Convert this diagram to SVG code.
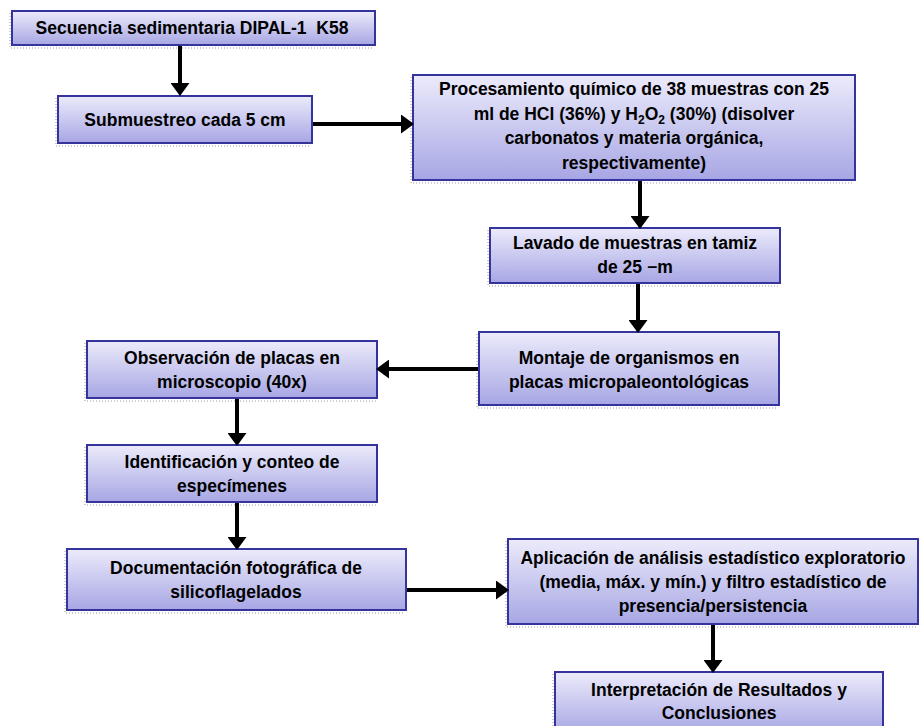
<svg xmlns="http://www.w3.org/2000/svg" width="920" height="726" viewBox="0 0 920 726">
<defs>
<linearGradient id="g" x1="0" y1="0" x2="0" y2="1">
<stop offset="0" stop-color="#ecebfb"/>
<stop offset="1" stop-color="#a7a6e4"/>
</linearGradient>
<marker id="ah" markerUnits="userSpaceOnUse" markerWidth="14" markerHeight="19" refX="2" refY="9.5" orient="auto" viewBox="0 0 14 19">
<path d="M0,0 L13,9.5 L0,19 z" fill="#000"/>
</marker>
</defs>
<style>
.box{fill:url(#g);stroke:#34349c;stroke-width:2}
.sh{fill:none;stroke:#9a9a9a;stroke-width:1;stroke-dasharray:1 2}
text{font-family:"Liberation Sans",Arial,sans-serif;font-weight:bold;font-size:17.5px;fill:#000;text-anchor:middle}
.c{stroke:#000;stroke-width:4;fill:none;marker-end:url(#ah)}
</style>
<rect width="920" height="726" fill="#fff"/>

<g id="n1">
<path class="sh" d="M10,13 V48 H374"/>
<rect class="box" x="12" y="11" width="363" height="34"/>
<text x="192" y="34">Secuencia sedimentaria DIPAL-1&#160; K58</text>
</g>
<g id="n2">
<path class="sh" d="M56,98 V146 H311"/>
<rect class="box" x="58" y="96" width="254" height="47"/>
<text x="185" y="126">Submuestreo cada 5 cm</text>
</g>
<g id="n3">
<path class="sh" d="M411,77 V183 H854"/>
<rect class="box" x="413" y="75" width="442" height="105"/>
<text x="634" y="95">Procesamiento químico de 38 muestras con 25</text>
<text x="634" y="120">ml de HCl (36%) y H<tspan font-size="12" dy="4">2</tspan><tspan dy="-4">O</tspan><tspan font-size="12" dy="4">2</tspan><tspan dy="-4"> (30%) (disolver</tspan></text>
<text x="634" y="144">carbonatos y materia orgánica,</text>
<text x="634" y="169">respectivamente)</text>
</g>
<g id="n4">
<path class="sh" d="M488,230 V286 H779"/>
<rect class="box" x="490" y="228" width="290" height="55"/>
<text x="635" y="249">Lavado de muestras en tamiz</text>
<text x="635" y="273">de 25 −m</text>
</g>
<g id="n5">
<path class="sh" d="M477,334 V408 H778"/>
<rect class="box" x="479" y="332" width="300" height="73"/>
<text x="629" y="364">Montaje de organismos en</text>
<text x="629" y="388">placas micropaleontológicas</text>
</g>
<g id="n6">
<path class="sh" d="M85,343 V401 H376"/>
<rect class="box" x="87" y="341" width="290" height="57"/>
<text x="232" y="364">Observación de placas en</text>
<text x="232" y="388">microscopio (40x)</text>
</g>
<g id="n7">
<path class="sh" d="M85,447 V505 H376"/>
<rect class="box" x="87" y="445" width="290" height="57"/>
<text x="232" y="468">Identificación y conteo de</text>
<text x="232" y="492">especímenes</text>
</g>
<g id="n8">
<path class="sh" d="M65,551 V613 H405"/>
<rect class="box" x="67" y="549" width="339" height="61"/>
<text x="236" y="574">Documentación fotográfica de</text>
<text x="236" y="598">silicoflagelados</text>
</g>
<g id="n9">
<path class="sh" d="M506,541 V627 H917"/>
<rect class="box" x="508" y="539" width="410" height="85"/>
<text x="713" y="564">Aplicación de análisis estadístico exploratorio</text>
<text x="713" y="588">(media, máx. y mín.) y filtro estadístico de</text>
<text x="713" y="612">presencia/persistencia</text>
</g>
<g id="n10">
<path class="sh" d="M553,674 V726"/>
<rect class="box" x="555" y="672" width="328" height="62"/>
<text x="719" y="696">Interpretación de Resultados y</text>
<text x="719" y="719">Conclusiones</text>
</g>

<g id="connectors">
<line class="c" x1="180" y1="46" x2="180" y2="85"/>
<line class="c" x1="313" y1="124" x2="403" y2="124"/>
<line class="c" x1="640" y1="181" x2="640" y2="218"/>
<line class="c" x1="638" y1="284" x2="638" y2="322"/>
<line class="c" x1="478" y1="369" x2="387" y2="369"/>
<line class="c" x1="237" y1="399" x2="237" y2="435"/>
<line class="c" x1="237" y1="503" x2="237" y2="539"/>
<line class="c" x1="407" y1="590" x2="498" y2="590"/>
<line class="c" x1="713" y1="625" x2="713" y2="662"/>
</g>
</svg>
